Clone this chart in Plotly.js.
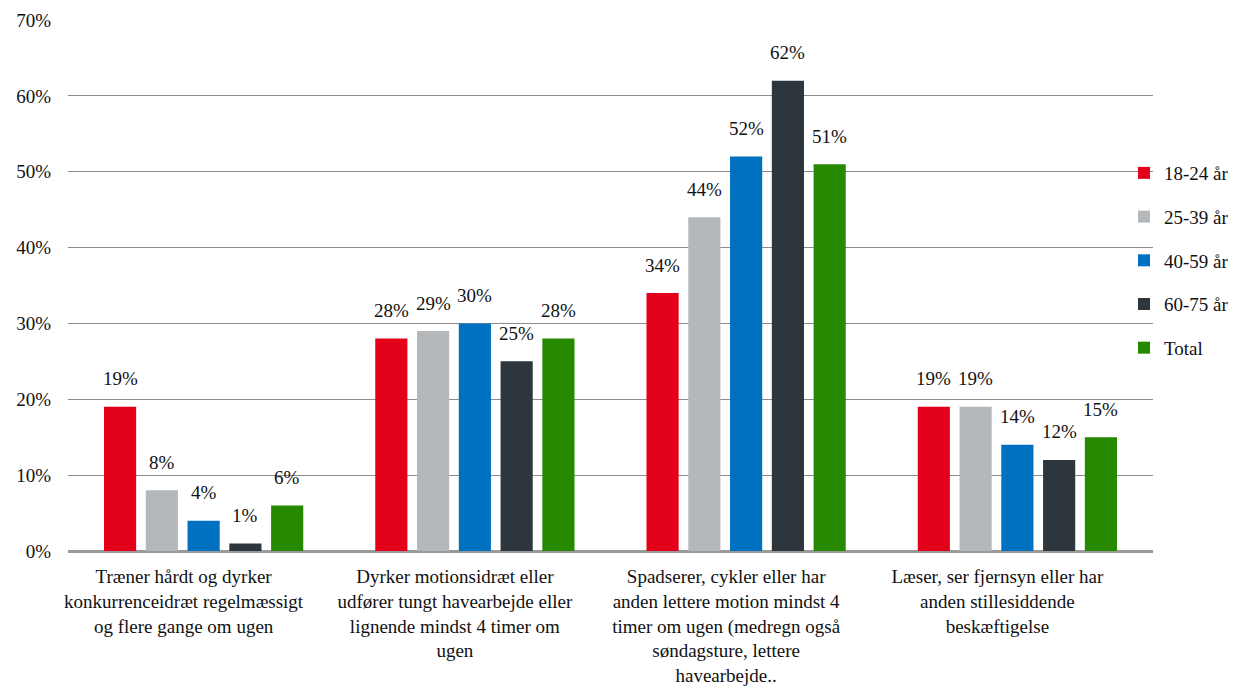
<!DOCTYPE html>
<html>
<head>
<meta charset="utf-8">
<script src="https://cdn.plot.ly/plotly-3.0.1.min.js"></script>
<style>html,body{margin:0;padding:0;background:#fff;}#chart{width:1235px;height:688px;}</style>
</head>
<body>
<div id="chart"></div>
<script>
const categories = [
  "Træner hårdt og dyrker konkurrenceidræt regelmæssigt og flere gange om ugen",
  "Dyrker motionsidræt eller udfører tungt havearbejde eller lignende mindst 4 timer om ugen",
  "Spadserer, cykler eller har anden lettere motion mindst 4 timer om ugen (medregn også søndagsture, lettere havearbejde..",
  "Læser, ser fjernsyn eller har anden stillesiddende beskæftigelse"
];
const tickLabels = [
  "Træner hårdt og dyrker<br>konkurrenceidræt regelmæssigt<br>og flere gange om ugen",
  "Dyrker motionsidræt eller<br>udfører tungt havearbejde eller<br>lignende mindst 4 timer om<br>ugen",
  "Spadserer, cykler eller har<br>anden lettere motion mindst 4<br>timer om ugen (medregn også<br>søndagsture, lettere<br>havearbejde..",
  "Læser, ser fjernsyn eller har<br>anden stillesiddende<br>beskæftigelse"
];
const seriesNames = ["18-24 år", "25-39 år", "40-59 år", "60-75 år", "Total"];
const age18_24 = [19, 28, 34, 19];
const age25_39 = [8, 29, 44, 19];
const age40_59 = [4, 30, 52, 14];
const age60_75 = [1, 25, 62, 12];
const total    = [6, 28, 51, 15];
const seriesValues = [age18_24, age25_39, age40_59, age60_75, total];
const colors = ["#E2001A", "#B5B8BA", "#0070C0", "#2D363D", "#268A00"];

const FONT = "'Liberation Serif', 'Times New Roman', serif";
const bargap = 0.23;
const nSeries = seriesNames.length;
const slot = (1 - bargap) / nSeries;

const traces = seriesNames.map((name, j) => ({
  type: "bar",
  name: name,
  x: categories,
  y: seriesValues[j],
  marker: {color: colors[j]},
  legendgroup: "g" + j,
  hoverinfo: "skip"
}));

const annotations = [];
seriesValues.forEach((vals, j) => {
  vals.forEach((v, i) => {
    annotations.push({
      x: i + (j - (nSeries - 1) / 2) * slot,
      y: v,
      xref: "x", yref: "y",
      text: v + "%",
      showarrow: false,
      yanchor: "middle",
      yshift: 28,
      font: {family: FONT, size: 19, color: "#111"}
    });
  });
});

const L = 68, R = 82;
const layout = {
  width: 1235, height: 688,
  margin: {l: L, r: R, t: 20, b: 137, autoexpand: false},
  paper_bgcolor: "#fff", plot_bgcolor: "#fff",
  font: {family: FONT, size: 19, color: "#111"},
  barmode: "group",
  bargap: bargap,
  bargroupgap: 0.23,
  showlegend: true,
  legend: {
    x: (1124 - L) / (1235 - L - R), xanchor: "left",
    y: 0.547, yanchor: "middle",
    font: {family: FONT, size: 19, color: "#111"},
    traceorder: "grouped",
    tracegroupgap: 16,
    bgcolor: "rgba(0,0,0,0)"
  },
  xaxis: {
    type: "category",
    tickvals: categories,
    ticktext: tickLabels,
    tickfont: {family: FONT, size: 19, color: "#111"},
    showgrid: false,
    showline: true, linecolor: "#9a9a9a", linewidth: 1.5,
    ticks: "",
    ticklabelstandoff: 8,
    ticklabelshift: -20,
    automargin: false
  },
  yaxis: {
    range: [0, 70],
    tickvals: [0, 10, 20, 30, 40, 50, 60, 70],
    ticktext: ["0%", "10%", "20%", "30%", "40%", "50%", "60%", "70%"],
    tickfont: {family: FONT, size: 19, color: "#111"},
    showgrid: true, gridcolor: "#8c8c8c", gridwidth: 1,
    zeroline: true, zerolinecolor: "#9a9a9a", zerolinewidth: 1.5,
    ticks: "",
    ticklabelstandoff: 16,
    automargin: false
  },
  annotations: annotations
};

Plotly.newPlot("chart", traces, layout, {displayModeBar: false, staticPlot: true});
</script>
</body>
</html>
